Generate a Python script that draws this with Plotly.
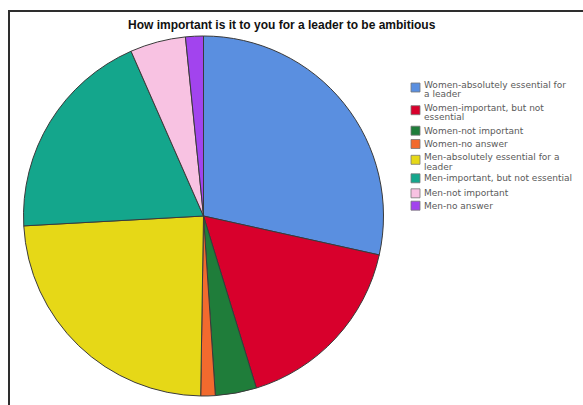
import plotly.graph_objects as go

# Survey responses (share of all respondents, %)
categories = [
    "Women-absolutely essential for<br>a leader",
    "Women-important, but not<br>essential",
    "Women-not important",
    "Women-no answer",
    "Men-absolutely essential for a<br>leader",
    "Men-important, but not essential",
    "Men-not important",
    "Men-no answer",
]
values = [28.5, 16.8, 3.7, 1.3, 23.9, 19.3, 5.0, 1.6]
colors = ["#5a8fe0", "#d8002c", "#1f7d3a", "#f26a2e",
          "#e6d817", "#14a68c", "#f8c2e2", "#a244ee"]

W, H = 583, 405
cx, cy, r = 203.5, 216, 180

fig = go.Figure(go.Pie(
    labels=categories,
    values=values,
    sort=False,
    direction="clockwise",
    rotation=0,
    textinfo="none",
    hoverinfo="label+percent",
    marker=dict(colors=colors, line=dict(color="#3a3a3a", width=1)),
    domain=dict(x=[(cx - r) / W, (cx + r) / W],
                y=[(H - cy - r) / H, (H - cy + r) / H]),
    showlegend=False,
))

shapes = [
    # chart frame
    dict(type="rect", xref="paper", yref="paper",
         x0=9 / W, x1=(W + 10) / W, y0=-0.1, y1=(H - 11) / H,
         line=dict(color="#2e2e2e", width=2), fillcolor="rgba(0,0,0,0)"),
]
annotations = [
    dict(text="<b>How important is it to you for a leader to be ambitious</b>",
         x=282 / W, y=(H - 25) / H, xref="paper", yref="paper",
         showarrow=False, xanchor="center", yanchor="middle",
         font=dict(family="Liberation Sans, Arial", size=12, color="#111")),
]

# legend: one swatch plus label lines per category (tight line spacing)
row_y = [85, 107.7, 130.7, 144, 157.3, 178.3, 193.3, 205.7]
line_gap = 9.3
for label, col, y in zip(categories, colors, row_y):
    lines = label.split("<br>")
    sw_c = y + (2.5 if len(lines) > 1 else 0)
    shapes.append(dict(type="rect", xref="paper", yref="paper",
                       x0=411 / W, x1=420 / W,
                       y0=(H - sw_c - 4.5) / H, y1=(H - sw_c + 4.5) / H,
                       fillcolor=col, line=dict(color="#777", width=0.8)))
    for k, txt in enumerate(lines):
        annotations.append(dict(text=txt, x=422 / W,
                                y=(H - y - k * line_gap) / H,
                                xref="paper", yref="paper", showarrow=False,
                                xanchor="left", yanchor="middle", align="left",
                                font=dict(family="DejaVu Sans", size=9,
                                          color="#5a5a5a")))

fig.update_layout(
    width=W, height=H,
    margin=dict(l=0, r=0, t=0, b=0),
    paper_bgcolor="white",
    plot_bgcolor="white",
    shapes=shapes,
    annotations=annotations,
)

fig.write_html("out.html")
